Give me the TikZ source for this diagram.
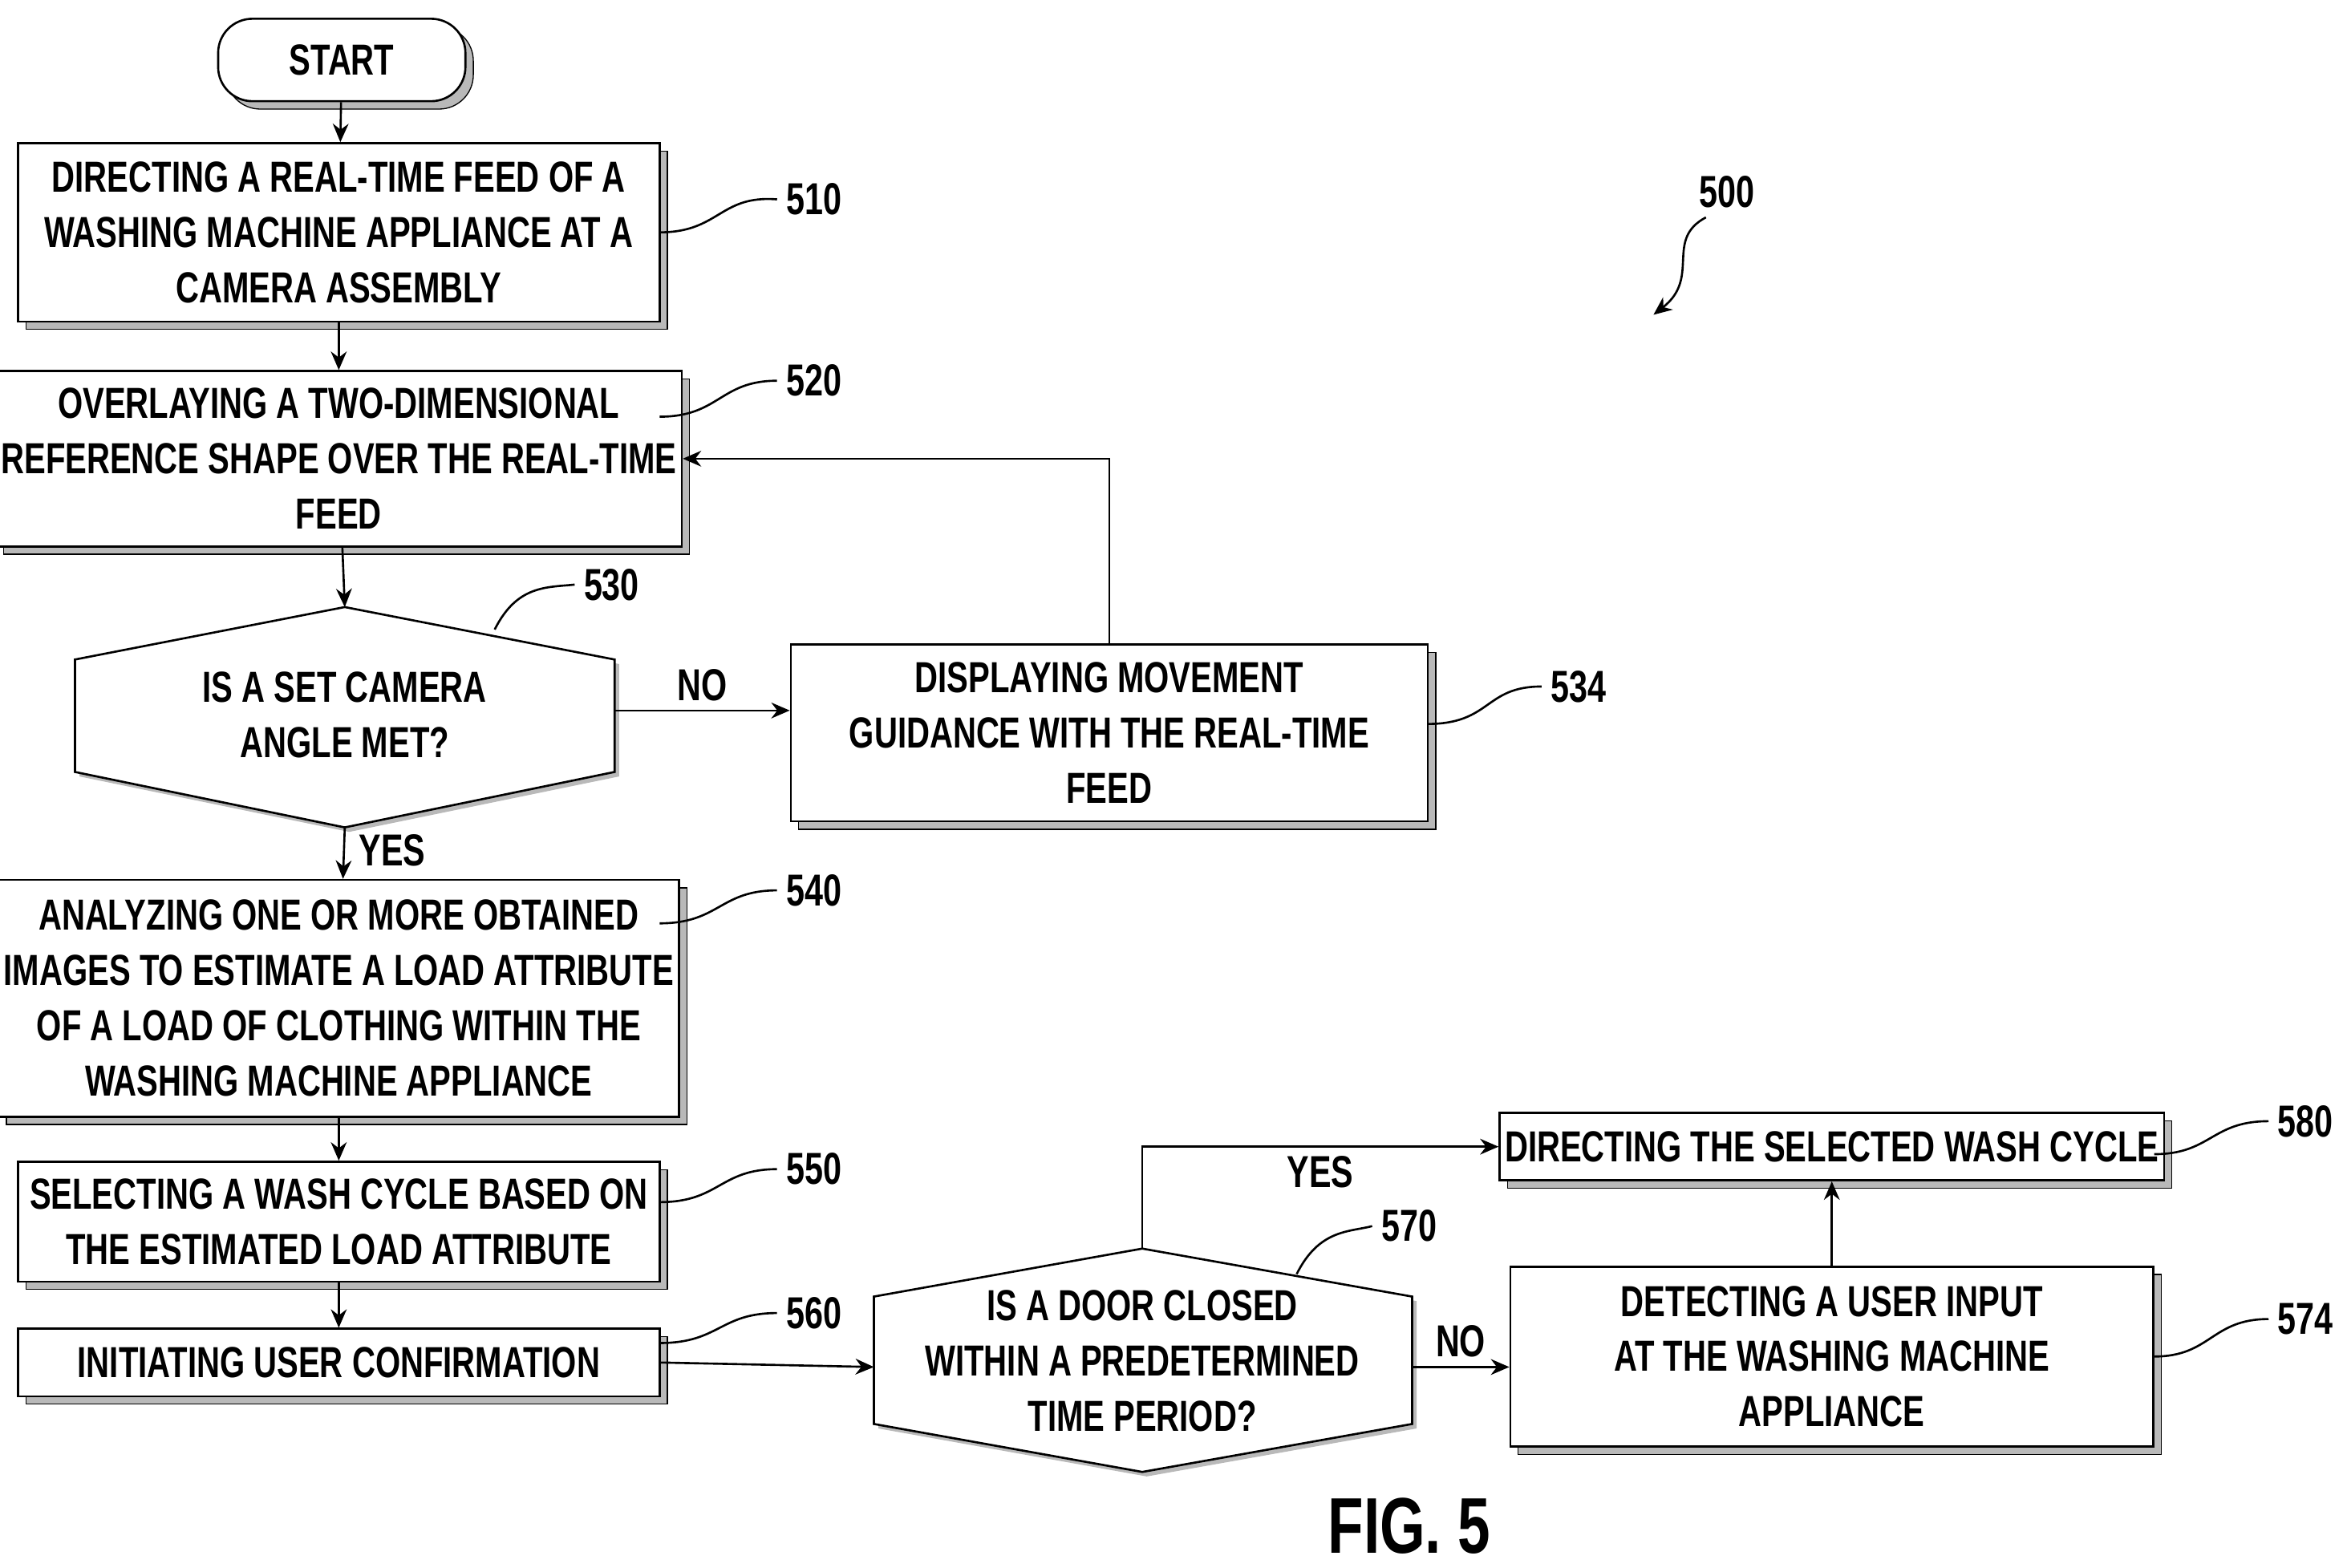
\documentclass[tikz,border=0pt]{standalone}
\usepackage{fontspec}
\setmainfont{Liberation Sans}[FakeStretch=0.74]
\usetikzlibrary{arrows.meta,positioning,shadows,calc}
\tikzset{
  box/.style={draw,thick,fill=white,align=center,inner sep=2pt,
    copy shadow={shadow xshift=3pt,shadow yshift=-3pt,fill=gray!55,draw=black,thin},
    font=\fontsize{16.5}{21}\selectfont\bfseries},
  txt/.style={align=center,font=\fontsize{16.5}{21}\selectfont\bfseries},
  lbl/.style={font=\fontsize{17}{20}\selectfont\bfseries},
  flow/.style={thick,-{Stealth[length=7pt,width=6pt]}},
  lead/.style={thick}
}
\begin{document}
\begin{tikzpicture}[x=0.02cm,y=-0.02cm]
  \useasboundingbox (0,0) rectangle (1563,1046);

  % start
  \node[draw,thick,rounded corners=13pt,fill=white,minimum width=3.3cm,minimum height=1.1cm,
    copy shadow={shadow xshift=3pt,shadow yshift=-3pt,fill=gray!55,draw=black,thin},
    txt] (start) at (228,40) {START};

  % left column of boxes
  \node[box,minimum width=8.56cm,minimum height=2.38cm] (s510) at (226,155)
    {DIRECTING A REAL-TIME FEED OF A\\WASHING MACHINE APPLIANCE AT A\\CAMERA ASSEMBLY};
  \node[box,minimum width=8.56cm,minimum height=2.34cm] (s520) at (226,306)
    {OVERLAYING A TWO-DIMENSIONAL\\REFERENCE SHAPE OVER THE REAL-TIME\\FEED};
  \node[box,minimum width=8.56cm,minimum height=3.16cm] (s540) at (226,666)
    {ANALYZING ONE OR MORE OBTAINED\\IMAGES TO ESTIMATE A LOAD ATTRIBUTE\\OF A LOAD OF CLOTHING WITHIN THE\\WASHING MACHINE APPLIANCE};
  \node[box,minimum width=8.56cm,minimum height=1.6cm] (s550) at (226,815)
    {SELECTING A WASH CYCLE BASED ON\\THE ESTIMATED LOAD ATTRIBUTE};
  \node[box,minimum width=8.56cm,minimum height=0.9cm] (s560) at (226,909)
    {INITIATING USER CONFIRMATION};

  % decision 530
  \fill[gray!55] ($(50,440)+(3,3)$) -- ($(230,405)+(3,3)$) -- ($(410,440)+(3,3)$) -- ($(410,515)+(3,3)$)
    -- ($(230,552)+(3,3)$) -- ($(50,515)+(3,3)$) -- cycle;
  \draw[thick,fill=white] (50,440) coordinate (d530w) -- (230,405) coordinate (d530n) -- (410,440)
    -- (410,515) -- (230,552) coordinate (d530s) -- (50,515) -- cycle;
  \coordinate (d530e) at (410,474);
  \node[txt] (q530) at (230,477) {IS A SET CAMERA\\ANGLE MET?};

  \node[box,minimum width=8.5cm,minimum height=2.36cm] (s534) at (740,489)
    {DISPLAYING MOVEMENT\\GUIDANCE WITH THE REAL-TIME\\FEED};

  % decision 570
  \fill[gray!55] ($(583,865)+(3,3)$) -- ($(762,833)+(3,3)$) -- ($(942,865)+(3,3)$) -- ($(942,950)+(3,3)$)
    -- ($(762,982)+(3,3)$) -- ($(583,950)+(3,3)$) -- cycle;
  \draw[thick,fill=white] (583,865) -- (762,833) coordinate (d570n) -- (942,865)
    -- (942,950) -- (762,982) -- (583,950) -- cycle;
  \coordinate (d570w) at (583,912);
  \coordinate (d570e) at (942,912);
  \node[txt] (q570) at (762,908) {IS A DOOR CLOSED\\WITHIN A PREDETERMINED\\TIME PERIOD?};

  \node[box,minimum width=8.58cm,minimum height=2.4cm] (s574) at (1222,905)
    {DETECTING A USER INPUT\\AT THE WASHING MACHINE\\APPLIANCE};
  \node[box,minimum width=8.54cm,minimum height=0.9cm] (s580) at (1222,765)
    {DIRECTING THE SELECTED WASH CYCLE};

  % connectors
  \draw[flow] (start) -- (s510);
  \draw[flow] (s510) -- (s520);
  \draw[flow] (s520) -- (d530n);
  \draw[flow] (d530s) -- node[lbl,right=2pt,pos=0.45] {YES} (s540);
  \draw[flow] (d530e) -- node[lbl,above] {NO} (s534.west |- d530e);
  \draw[flow] (s534.north) |- (s520.east);
  \draw[flow] (s540) -- (s550);
  \draw[flow] (s550) -- (s560);
  \draw[flow] (s560.east) -- (d570w);
  \draw[flow] (d570e) -- node[lbl,above] {NO} (s574.west |- d570e);
  \draw[flow] (d570n) |- node[lbl,pos=0.75,below] {YES} (s580.west);
  \draw[flow] (s574) -- (s580);

  % reference numerals
  \node[lbl] (n510) at (543,133) {510};
  \node[lbl] (n520) at (543,254) {520};
  \node[lbl] (n530) at (408,390) {530};
  \node[lbl] (n534) at (1053,458) {534};
  \node[lbl] (n540) at (543,594) {540};
  \node[lbl] (n550) at (543,780) {550};
  \node[lbl] (n560) at (543,876) {560};
  \node[lbl] (n570) at (940,818) {570};
  \node[lbl] (n574) at (1538,880) {574};
  \node[lbl] (n580) at (1538,748) {580};
  \node[lbl] (n500) at (1152,128) {500};
  \draw[lead] (440,155) .. controls (480,155) and (480,130) .. (n510.west);
  \draw[lead] (440,278) .. controls (480,278) and (480,254) .. (n520.west);
  \draw[lead] (330,420) .. controls (345,390) and (365,392) .. (n530.west);
  \draw[lead] (952,483) .. controls (995,483) and (990,458) .. (n534.west);
  \draw[lead] (440,616) .. controls (480,616) and (480,594) .. (n540.west);
  \draw[lead] (440,802) .. controls (480,802) and (480,780) .. (n550.west);
  \draw[lead] (440,896) .. controls (480,896) and (480,876) .. (n560.west);
  \draw[lead] (865,850) .. controls (880,820) and (900,822) .. (n570.west);
  \draw[lead] (1437,905) .. controls (1475,905) and (1475,880) .. (n574.west);
  \draw[lead] (1437,770) .. controls (1475,770) and (1475,748) .. (n580.west);
  \draw[lead,-{Stealth[length=7pt,width=6pt]}] (1138,145) .. controls (1110,160) and (1135,185) .. (1103,210);

  \node[font=\fontsize{30}{34}\selectfont\bfseries] (fig) at (940,1018) {FIG. 5};
\end{tikzpicture}
\end{document}
